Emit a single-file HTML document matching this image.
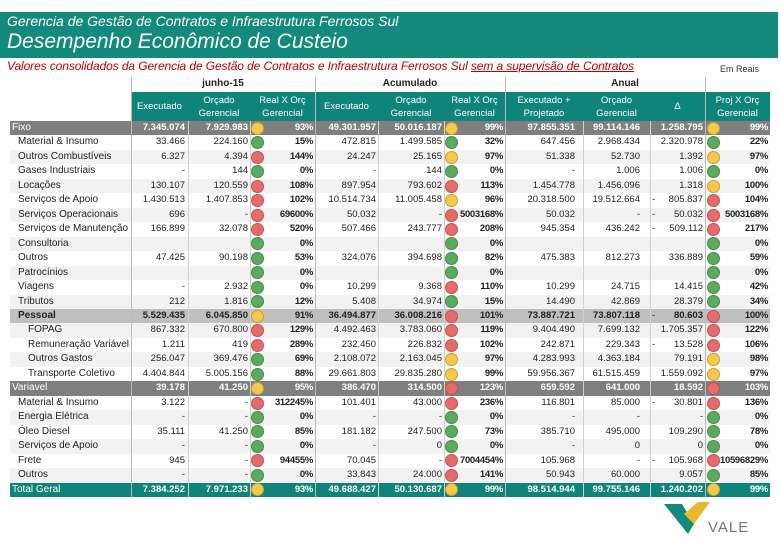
<!DOCTYPE html>
<html><head><meta charset="utf-8">
<style>
body{margin:0;width:780px;height:540px;background:#fff;position:relative;overflow:hidden;font-family:"Liberation Sans",sans-serif}
.abs{position:absolute;box-sizing:border-box;white-space:nowrap}
#band{left:0;top:12px;width:778px;height:46px;background:#138a7c}
#t1{left:7px;top:13px;font-size:14px;font-style:italic;color:#fff}
#t2{left:7px;top:30px;font-size:21px;font-style:italic;color:#fff}
#sub{left:7px;top:59px;font-size:12px;font-style:italic;color:#c00000;letter-spacing:-0.1px}
#sub u{text-decoration:underline}
#reais{left:720px;top:64px;font-size:9px;color:#333}
.c{font-size:9.5px;line-height:14.5px;height:14.5px;overflow:visible}
.h{color:#fff;font-size:9.5px;text-align:center;line-height:13px;display:flex;align-items:center;justify-content:center}
.dot{position:absolute;width:13px;height:13px;border-radius:50%;top:1px;box-sizing:border-box;border:1px solid rgba(0,0,0,.2)}
</style></head><body>
<div class="abs" id="band"></div>
<div class="abs" id="t1">Gerencia de Gestão de Contratos e Infraestrutura Ferrosos Sul</div>
<div class="abs" id="t2">Desempenho Econômico de Custeio</div>
<div class="abs" id="sub">Valores consolidados da Gerencia de Gestão de Contratos e Infraestrutura Ferrosos Sul <u>sem a supervisão de Contratos</u></div>
<div class="abs" id="reais">Em Reais</div>
<div id="tbl"></div>
<svg class="abs" style="left:662px;top:500px" width="110" height="36">
<polygon points="2,4 20,4 32,24 26,34" fill="#138a7c"/>
<polygon points="22,14 36,2 48,2 32,24" fill="#e8b92c"/>
<text x="46" y="32" font-family="Liberation Sans" font-size="15" fill="#777" letter-spacing="1">VALE</text>
</svg>
<script>
const labels=["Fixo","Material & Insumo","Outros Combustíveis","Gases Industriais","Locações","Serviços de Apoio","Serviços Operacionais","Serviços de Manutenção","Consultoria","Outros","Patrocínios","Viagens","Tributos","Pessoal","FOPAG","Remuneração Variável","Outros Gastos","Transporte Coletivo","Variavel","Material & Insumo","Energia Elétrica","Óleo Diesel","Serviços de Apoio","Frete","Outros","Total Geral"];
const kinds=["g","i","i","i","i","i","i","i","i","i","i","i","i","p","j","j","j","j","g","i","i","i","i","i","i","t"];
const monthExec=["7.345.074","33.466","6.327","-","130.107","1.430.513","696","166.899","","47.425","","-","212","5.529.435","867.332","1.211","256.047","4.404.844","39.178","3.122","-","35.111","-","945","-","7.384.252"];
const monthBud=["7.929.983","224.160","4.394","144","120.559","1.407.853","-","32.078","","90.198","","2.932","1.816","6.045.850","670.800","419","369.476","5.005.156","41.250","-","-","41.250","-","-","-","7.971.233"];
const monthDot=["y","g","r","g","r","r","r","r","g","g","g","g","g","y","r","r","g","g","y","r","g","g","g","r","g","y"];
const monthPct=["93%","15%","144%","0%","108%","102%","69600%","520%","0%","53%","0%","0%","12%","91%","129%","289%","69%","88%","95%","312245%","0%","85%","0%","94455%","0%","93%"];
const accExec=["49.301.957","472.815","24.247","-","897.954","10.514.734","50.032","507.466","","324.076","","10.299","5.408","36.494.877","4.492.463","232.450","2.108.072","29.661.803","386.470","101.401","-","181.182","-","70.045","33.843","49.688.427"];
const accBud=["50.016.187","1.499.585","25.165","144","793.602","11.005.458","-","243.777","","394.698","","9.368","34.974","36.008.216","3.783.060","226.832","2.163.045","29.835.280","314.500","43.000","-","247.500","0","-","24.000","50.130.687"];
const accDot=["y","g","y","g","r","y","r","r","g","g","g","r","g","r","r","r","y","y","r","r","g","g","g","r","r","y"];
const accPct=["99%","32%","97%","0%","113%","96%","5003168%","208%","0%","82%","0%","110%","15%","101%","119%","102%","97%","99%","123%","236%","0%","73%","0%","7004454%","141%","99%"];
const yrProj=["97.855.351","647.456","51.338","-","1.454.778","20.318.500","50.032","945.354","","475.383","","10.299","14.490","73.887.721","9.404.490","242.871","4.283.993","59.956.367","659.592","116.801","-","385.710","-","105.968","50.943","98.514.944"];
const yrBud=["99.114.146","2.968.434","52.730","1.006","1.456.096","19.512.664","-","436.242","","812.273","","24.715","42.869","73.807.118","7.699.132","229.343","4.363.184","61.515.459","641.000","85.000","-","495.000","0","-","60.000","99.755.146"];
const yrNeg=["","","","","","-","-","-","","","","","","-","","-","","","","-","","","","-","",""];
const yrDelta=["1.258.795","2.320.978","1.392","1.006","1.318","805.837","50.032","509.112","","336.889","","14.415","28.379","80.603","1.705.357","13.528","79.191","1.559.092","18.592","30.801","-","109.290","0","105.968","9.057","1.240.202"];
const yrDot=["y","g","y","g","y","r","r","r","g","g","g","g","g","r","r","r","y","y","r","r","g","g","g","r","g","y"];
const yrPct=["99%","22%","97%","0%","100%","104%","5003168%","217%","0%","59%","0%","42%","34%","100%","122%","106%","98%","97%","103%","136%","0%","78%","0%","10596829%","85%","99%"];

const tbl=document.getElementById('tbl');
const dotCol={g:"#5bab5e",r:"#e96a6a",y:"#f6c94a"};
function add(cls,x,y,w,h,txt,style,name){
  const d=document.createElement('div');
  d.className='abs '+cls;
  d.style.left=x+'px';d.style.top=y+'px';d.style.width=w+'px';d.style.height=h+'px';
  if(style)d.style.cssText+=style;
  if(txt!==undefined)d.innerHTML=txt;
  
  
  tbl.appendChild(d);return d;
}
const top0=121,rh=14.46;
add('c',131,77,184,15,'junho-15','font-weight:bold;text-align:center;font-size:10px;color:#222','period-junho-header');
add('c',315,77,190,15,'Acumulado','font-weight:bold;text-align:center;font-size:10px;color:#222','period-acumulado-header');
add('c',505,77,240,15,'Anual','font-weight:bold;text-align:center;font-size:10px;color:#222','period-anual-header');
const heads=[[131,57,"Executado"],[188,62,"Orçado<br>Gerencial"],[250,65,"Real X Orç<br>Gerencial"],[315,63,"Executado"],[378,66,"Orçado<br>Gerencial"],[444,61,"Real X Orç<br>Gerencial"],[505,78,"Executado +<br>Projetado"],[583,67,"Orçado<br>Gerencial"],[650,55,"Δ"],[705,65,"Proj X Orç<br>Gerencial"]];
heads.forEach(h=>add('h',h[0],92,h[1],29,h[2],'background:#0e847a','column-header'));
for(let i=0;i<labels.length;i++){
  const y=top0+i*rh,k=kinds[i];
  let bg=i%2==0?'#f2f2f2':'#ffffff',col='#222',fw='normal';
  if(k=='g'){bg='#7f7f7f';col='#fff';}
  if(k=='p'){bg='#bfbfbf';fw='bold';}
  if(k=='t'){bg='#0e847a';col='#fff';}
  add('',10,y,760,rh+0.5,'','background:'+bg,'row-bg');
  const pad=k=='g'||k=='t'?2:(k=='j'?18:8);
  add('c',10+pad,y,121,rh,labels[i],'font-size:10px;color:'+col+';font-weight:'+fw,'row-label');
  const cs='text-align:right;color:'+col+';font-weight:'+(k=='g'||k=='t'||k=='p'?'bold':'normal');
  const ps='text-align:right;font-weight:bold;letter-spacing:-0.3px;color:'+col;
  add('c',131,y,54,rh,monthExec[i],cs,'month-executed');
  add('c',188,y,60,rh,monthBud[i],cs,'month-budget');
  add('c',250,y,63,rh,monthPct[i],ps,'month-ratio');
  add('c',315,y,61,rh,accExec[i],cs,'acc-executed');
  add('c',378,y,64,rh,accBud[i],cs,'acc-budget');
  add('c',444,y,59,rh,accPct[i],ps,'acc-ratio');
  add('c',505,y,70,rh,yrProj[i],cs,'year-projected');
  add('c',583,y,57,rh,yrBud[i],cs,'year-budget');
  add('c',652,y,10,rh,yrNeg[i],'color:'+col,'year-delta-sign');
  add('c',650,y,53,rh,yrDelta[i],cs,'year-delta');
  add('c',705,y,63,rh,yrPct[i],ps,'year-ratio');
  [[monthDot[i],251],[accDot[i],445],[yrDot[i],707]].forEach(d=>{
    add('dot',d[1],y+0.8,13,13,'','background:'+dotCol[d[0]],'status-dot');
  });
}
[131,315,505,705].forEach(x=>add('',x,77,1,420,'','background:#bbb','column-separator'));
[188,250,378,444,583,650].forEach(x=>add('',x,121,1,376,'','background:#d0d0d0','column-gridline'));
</script>
</body></html>
